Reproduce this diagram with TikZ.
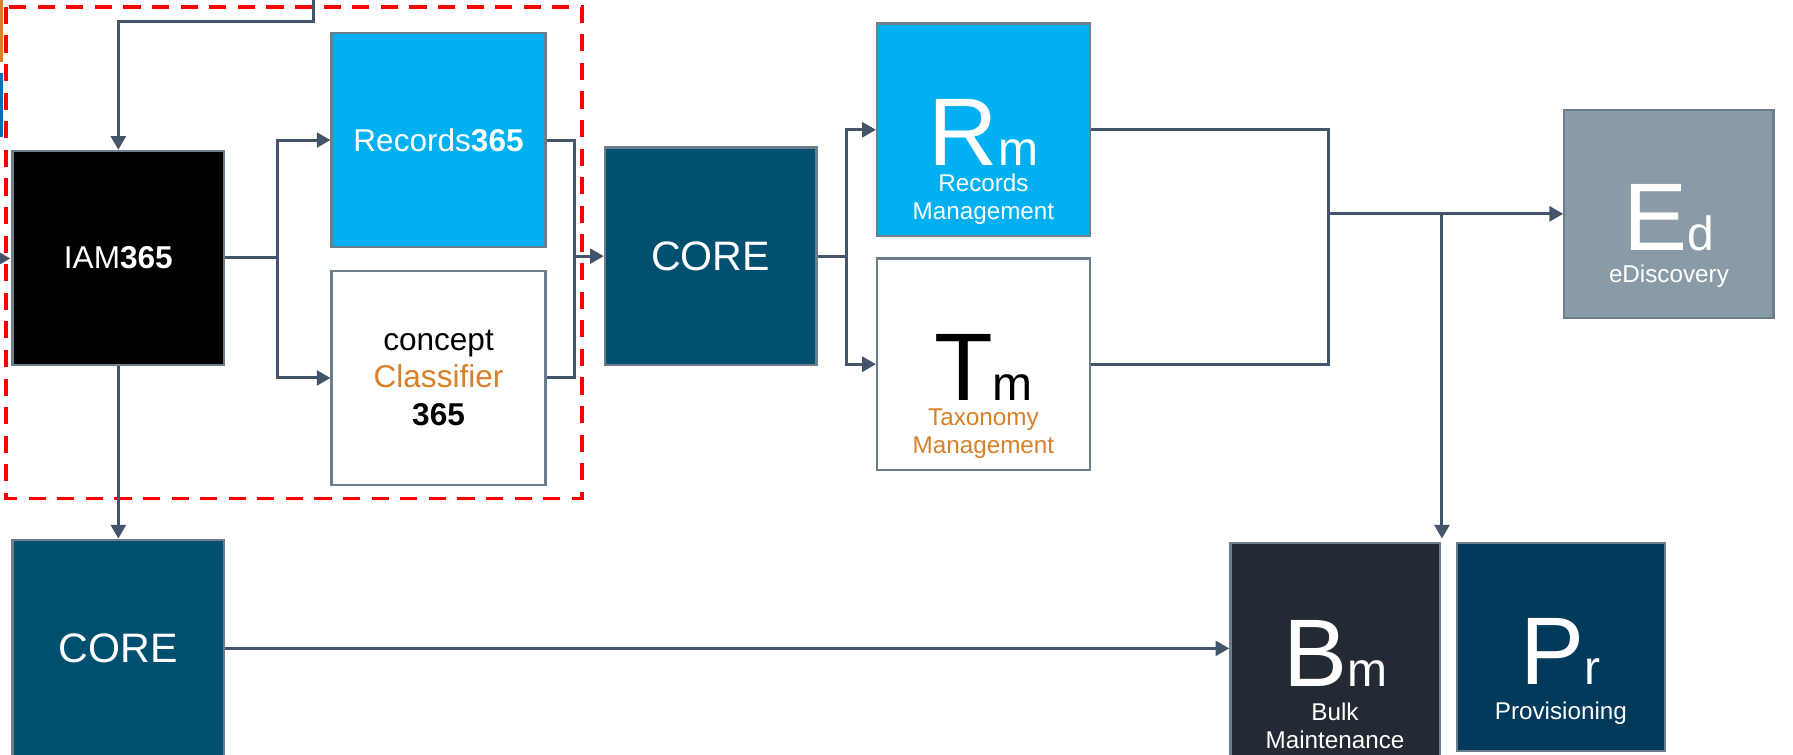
\documentclass[tikz,border=0pt]{standalone}
\usepackage{fontspec}
\setmainfont{Liberation Sans}
\usetikzlibrary{arrows.meta,calc}
\definecolor{connc}{HTML}{44546A}
\definecolor{bordc}{HTML}{6E7D8B}
\definecolor{cyanc}{HTML}{00B0F0}
\definecolor{corec}{HTML}{02506F}
\definecolor{edc}{HTML}{8A9BA8}
\definecolor{bmc}{HTML}{232A33}
\definecolor{prc}{HTML}{023A5B}
\definecolor{orangec}{HTML}{D9802A}
\definecolor{stripo}{HTML}{E07B22}
\definecolor{stripb}{HTML}{0070C0}
\begin{document}
\begin{tikzpicture}[x=0.5pt,y=-0.5pt,
  box/.style 2 args={draw=bordc,line width=1pt,inner sep=0pt,minimum width=#1*0.5pt,minimum height=#2*0.5pt},
  conn/.style={draw=connc,line width=1.3pt},
  arr/.style={conn,-{Triangle[length=6pt,width=6.5pt]}},
  midtxt/.style={font=\fontsize{13.8}{16.5}\selectfont,align=center,inner sep=0pt},
  coretxt/.style={font=\fontsize{18}{20}\selectfont,text=white,inner sep=0pt},
  bigl/.style={font=\fontsize{42}{42}\selectfont,anchor=base,inner sep=0pt,text height=30pt,text depth=0pt},
  lbl/.style={font=\fontsize{10.6}{12.3}\selectfont,align=center,inner sep=0pt}
]
\useasboundingbox (0,0) rectangle (1568,659.4);
\fill[white] (0,0) rectangle (1568,659.4);

% left edge fragments
\fill[stripo] (0,0) rectangle (3,54);
\fill[stripb] (0,64) rectangle (3,120);

% dashed group frame
\draw[red,line width=1.6pt,dash pattern=on 7.5pt off 5pt] (5,6) rectangle (509,436);

% boxes
\node[box={185}{187},fill=black,text=white,midtxt] (IAM) at (103.5,225.5) {IAM\textbf{365}};
\node[box={187}{187},fill=cyanc,text=white,midtxt] (Rec) at (383.5,122.5) {Records\textbf{365}};
\node[box={187}{187},fill=white] (Cls) at (383.5,330.5) {};
\node[midtxt] (ClsT) at (Cls.center) {concept\\\textcolor{orangec}{Classifier}\\\textbf{365}};
\node[box={185}{190},fill=corec] (CORE) at (621.5,224) {};
\node[coretxt] (CORET) at (CORE.center) {CORE};
\node[box={186}{186},fill=cyanc] (Rm) at (860,113.5) {};
\node[box={186}{185},fill=white] (Tm) at (860,318.5) {};
\node[box={183}{182},fill=edc] (Ed) at (1459.5,187) {};
\node[box={185}{190},fill=corec] (CORE2) at (103.5,567) {};
\node[coretxt] (CORE2T) at (CORE2.center) {CORE};
\node[box={183}{186},fill=bmc] (Bm) at (1167.5,568) {};
\node[box={182}{182},fill=prc] (Pr) at (1365,566) {};

% big letters and labels
\node[bigl,text=white] (RmL) at (860,145) {R{\fontsize{21}{21}\selectfont m}};
\node[lbl,text=white] (RmT) at (860,174) {Records\\Management};
\node[bigl,text=black] (TmL) at (860,350) {T{\fontsize{21}{21}\selectfont m}};
\node[lbl,text=orangec] (TmT) at (860,379.5) {Taxonomy\\Management};
\node[bigl,text=white] (EdL) at (1459.5,219) {E{\fontsize{21}{21}\selectfont d}};
\node[lbl,text=white] (EdT) at (1459.5,241.5) {eDiscovery};
\node[bigl,text=white] (BmL) at (1167.5,600) {B{\fontsize{21}{21}\selectfont m}};
\node[lbl,text=white] (BmT) at (1167.5,634.5) {Bulk\\Maintenance};
\node[bigl,text=white] (PrL) at (1365,599) {P{\fontsize{21}{21}\selectfont r}};
\node[lbl,text=white] (PrT) at (1365,623.5) {Provisioning};

% connectors
\coordinate (topin) at (274,-4);
\coordinate (topbend) at (274,19);
\draw[arr] (topin) -- (topbend) -| (IAM.north);

\coordinate (leftin) at (-20,226);
\coordinate (lefttip) at (9,226);
\draw[arr] (leftin) -- (lefttip);

\coordinate (b1) at (243,225.5);
\draw[conn] (IAM.east) -- (b1);
\draw[arr] (b1) |- (Rec.west);
\draw[arr] (b1) |- (Cls.west);

\coordinate (m1) at (502,224);
\draw[conn] (Rec.east) -| (m1);
\draw[conn] (Cls.east) -| (m1);
\draw[arr] (m1) -- (CORE.west);

\coordinate (b2) at (740,224);
\draw[conn] (CORE.east) -- (b2);
\draw[arr] (b2) |- (Rm.west);
\draw[arr] (b2) |- (Tm.west);

\coordinate (m2) at (1162,187);
\draw[conn] (Rm.east) -| (m2);
\draw[conn] (Tm.east) -| (m2);
\draw[arr] (m2) -- (Ed.west);

\coordinate (j) at (1261,187);
\coordinate (jend) at (1261,471);
\draw[arr] (j) -- (jend);

\draw[arr] (IAM.south) -- (IAM.south |- CORE2.north);
\draw[arr] (CORE2.east) -- (CORE2.east -| Bm.west);
\end{tikzpicture}
\end{document}
